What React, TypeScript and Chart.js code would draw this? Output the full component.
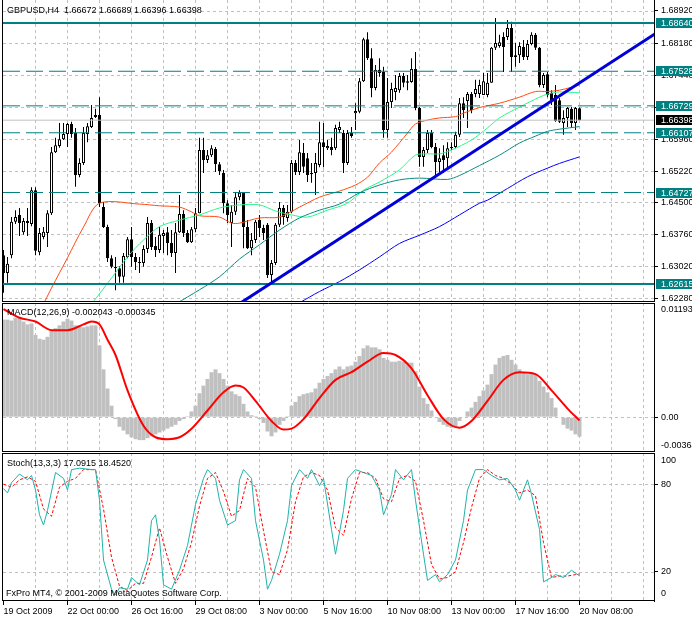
import React, { useEffect, useRef } from 'react';
import { Chart, registerables } from 'chart.js';
Chart.register(...registerables);

const FONT = '9px "Liberation Sans", Arial, sans-serif';

const symbolTitle = 'GBPUSD,H4  1.66672 1.66689 1.66396 1.66398';
const macdTitle = 'MACD(12,26,9) -0.002043 -0.000345';
const stochTitle = 'Stoch(13,3,3) 17.0915 18.4520';
const copyright = 'FxPro MT4, \u00A9 2001-2009 MetaQuotes Software Corp.';

const timeTickBars = [0, 16, 32, 48, 64, 80, 96, 112, 128, 144];
const timeTickLabels = ['19 Oct 2009', '22 Oct 00:00', '26 Oct 16:00', '29 Oct 08:00', '3 Nov 00:00', '5 Nov 16:00', '10 Nov 08:00', '13 Nov 00:00', '17 Nov 16:00', '20 Nov 08:00'];

const opens = [
  1.6328,1.6287,1.6328,1.6405,1.6421,1.6381,1.6402,1.6400,1.6478,1.6335,
  1.6370,1.6379,1.6425,1.6566,1.6580,1.6596,1.6608,1.6631,1.6610,1.6513,
  1.6541,1.6608,1.6624,1.6647,1.6652,1.6439,1.6393,1.6321,1.6301,1.6298,
  1.6278,1.6324,1.6365,1.6324,1.6312,1.6310,1.6342,1.6402,1.6349,1.6340,
  1.6372,1.6381,1.6356,1.6333,1.6381,1.6423,1.6379,1.6358,1.6388,1.6425,
  1.6571,1.6548,1.6559,1.6573,1.6538,1.6518,1.6448,1.6402,1.6428,1.6462,
  1.6472,1.6393,1.6344,1.6363,1.6409,1.6391,1.6398,1.6282,1.6310,1.6398,
  1.6437,1.6414,1.6428,1.6541,1.6520,1.6564,1.6552,1.6518,1.6518,1.6536,
  1.6589,1.6575,1.6578,1.6575,1.6617,1.6610,1.6541,1.6610,1.6656,1.6659,
  1.6730,1.6827,1.6783,1.6714,1.6756,1.6751,1.6617,1.6682,1.6705,1.6709,
  1.6742,1.6726,1.6728,1.6758,1.6668,1.6555,1.6571,1.6610,1.6578,1.6543,
  1.6559,1.6552,1.6575,1.6578,1.6606,1.6679,1.6684,1.6700,1.6700,1.6700,
  1.6698,1.6698,1.6726,1.6807,1.6811,1.6832,1.6832,1.6853,1.6790,1.6790,
  1.6809,1.6786,1.6816,1.6837,1.6807,1.6721,1.6746,1.6703,1.6698,1.6686,
  1.6633,1.6645,1.6666,1.6633,1.66672
];
const highs = [
  1.6340,1.6324,1.6416,1.6432,1.6437,1.6414,1.6437,1.6485,1.6485,1.6391,
  1.6393,1.6432,1.6578,1.6599,1.6633,1.6633,1.6633,1.6636,1.6622,1.6552,
  1.6624,1.6633,1.6675,1.6666,1.6693,1.6451,1.6398,1.6328,1.6324,1.6303,
  1.6333,1.6370,1.6393,1.6333,1.6324,1.6351,1.6416,1.6409,1.6370,1.6393,
  1.6386,1.6393,1.6386,1.6402,1.6467,1.6432,1.6386,1.6393,1.6437,1.6599,
  1.6599,1.6571,1.6582,1.6578,1.6543,1.6525,1.6455,1.6444,1.6472,1.6478,
  1.6474,1.6409,1.6379,1.6409,1.6421,1.6398,1.6402,1.6317,1.6402,1.6451,
  1.6444,1.6444,1.6548,1.6548,1.6594,1.6587,1.6564,1.6541,1.6564,1.6636,
  1.6633,1.6594,1.6599,1.6629,1.6636,1.6617,1.6617,1.6624,1.6679,1.6737,
  1.6830,1.6843,1.6806,1.6767,1.6783,1.6763,1.6737,1.6726,1.6744,1.6749,
  1.6749,1.6744,1.6783,1.6797,1.6670,1.6578,1.6617,1.6617,1.6587,1.6575,
  1.6582,1.6589,1.6589,1.6613,1.6691,1.6693,1.6705,1.6705,1.6733,1.6733,
  1.6749,1.6749,1.6809,1.6876,1.6837,1.6843,1.6871,1.6867,1.6818,1.6820,
  1.6825,1.6825,1.6843,1.6841,1.6809,1.6749,1.6751,1.6709,1.6721,1.6691,
  1.6663,1.6670,1.6670,1.6670,1.66689
];
const lows = [
  1.6241,1.6264,1.6321,1.6400,1.6372,1.6375,1.6372,1.6395,1.6328,1.6328,
  1.6365,1.6347,1.6421,1.6564,1.6576,1.6594,1.6578,1.6599,1.6486,1.6508,
  1.6536,1.6589,1.6622,1.6645,1.6439,1.6391,1.6312,1.6298,1.6247,1.6264,
  1.6264,1.6321,1.6301,1.6294,1.6287,1.6301,1.6333,1.6340,1.6324,1.6333,
  1.6333,1.6328,1.6324,1.6287,1.6379,1.6370,1.6356,1.6356,1.6381,1.6425,
  1.6518,1.6541,1.6555,1.6520,1.6513,1.6425,1.6402,1.6347,1.6421,1.6455,
  1.6344,1.6342,1.6328,1.6356,1.6370,1.6363,1.6275,1.6264,1.6305,1.6393,
  1.6398,1.6405,1.6425,1.6513,1.6513,1.6518,1.6497,1.6495,1.6467,1.6531,
  1.6531,1.6571,1.6559,1.6571,1.6610,1.6518,1.6536,1.6599,1.6617,1.6656,
  1.6728,1.6779,1.6693,1.6709,1.6740,1.6599,1.6599,1.6668,1.6686,1.6703,
  1.6716,1.6709,1.6726,1.6663,1.6532,1.6532,1.6564,1.6575,1.6508,1.6520,
  1.6518,1.6529,1.6571,1.6575,1.6601,1.6645,1.6622,1.6656,1.6693,1.6691,
  1.6698,1.6693,1.6726,1.6802,1.6807,1.6751,1.6825,1.6751,1.6763,1.6772,
  1.6779,1.6779,1.6813,1.6802,1.6716,1.6714,1.6693,1.6675,1.6636,1.6633,
  1.6606,1.6624,1.6622,1.6617,1.66396
];
const closes = [
  1.6287,1.6308,1.6405,1.6416,1.6402,1.6407,1.6407,1.6478,1.6338,1.6379,
  1.6382,1.6425,1.6566,1.6582,1.6596,1.6608,1.6631,1.6608,1.6513,1.6541,
  1.6610,1.6626,1.6645,1.6652,1.6448,1.6393,1.6321,1.6301,1.6298,1.6278,
  1.6326,1.6365,1.6324,1.6312,1.6310,1.6342,1.6402,1.6347,1.6340,1.6375,
  1.6379,1.6356,1.6333,1.6381,1.6423,1.6379,1.6358,1.6388,1.6425,1.6571,
  1.6548,1.6559,1.6575,1.6538,1.6522,1.6448,1.6421,1.6428,1.6462,1.6472,
  1.6393,1.6344,1.6363,1.6405,1.6391,1.6379,1.6282,1.6310,1.6398,1.6437,
  1.6416,1.6428,1.6541,1.6520,1.6566,1.6532,1.6513,1.6515,1.6541,1.6589,
  1.6578,1.6580,1.6571,1.6622,1.6624,1.6541,1.6610,1.6603,1.6661,1.6730,
  1.6827,1.6783,1.6714,1.6756,1.6749,1.6617,1.6682,1.6712,1.6714,1.6742,
  1.6726,1.6730,1.6758,1.6668,1.6555,1.6571,1.6610,1.6578,1.6543,1.6552,
  1.6548,1.6575,1.6578,1.6606,1.6679,1.6663,1.6700,1.6663,1.6712,1.6721,
  1.6730,1.6726,1.6807,1.6818,1.6820,1.6809,1.6853,1.6786,1.6786,1.6811,
  1.6786,1.6816,1.6837,1.6807,1.6721,1.6744,1.6698,1.6686,1.6638,1.6636,
  1.6645,1.6668,1.6633,1.6668,1.66398
];

// moving averages: [bar, price]
const maOrange = [[10,1.6215],[12,1.6252],[16,1.6322],[20,1.6393],[24,1.6448],[34,1.6446],[39,1.6442],[44,1.6439],[47,1.6428],[49,1.6419],[54,1.6416],[57,1.6402],[59,1.6402],[64,1.6414],[69,1.6416],[74,1.6439],[79,1.6462],[84,1.6476],[88,1.6490],[91,1.6508],[94,1.6541],[97,1.6566],[101,1.6610],[103,1.6631],[106,1.6640],[109,1.6645],[113,1.6648],[115,1.6656],[119,1.6669],[124,1.6679],[129,1.6693],[133,1.6706],[136,1.6706],[139,1.6709],[142,1.6716],[144,1.6721]];
const maGreen = [[22,1.6215],[27,1.6275],[31,1.6324],[35,1.6363],[39,1.6394],[44,1.6409],[49,1.6421],[54,1.6437],[59,1.6444],[64,1.6444],[68,1.6430],[72,1.6421],[76,1.6416],[81,1.6432],[86,1.6448],[90,1.6478],[94,1.6497],[99,1.6525],[103,1.6559],[106,1.6562],[109,1.6562],[112,1.6571],[117,1.6594],[121,1.6622],[124,1.6645],[129,1.6670],[134,1.6693],[136,1.6700],[139,1.6705],[144,1.6703]];
const maTeal = [[43,1.6215],[49,1.6248],[54,1.6278],[59,1.6319],[64,1.6352],[69,1.6386],[74,1.6414],[79,1.6432],[84,1.6446],[89,1.6472],[94,1.6490],[99,1.6502],[104,1.6506],[111,1.6503],[114,1.6512],[119,1.6535],[124,1.6559],[129,1.6587],[133,1.6603],[136,1.6614],[139,1.6619],[144,1.6625]];
const maBlue = [[74,1.6218],[79,1.6244],[84,1.6267],[89,1.6294],[94,1.6324],[99,1.6355],[104,1.6374],[109,1.6394],[114,1.6421],[119,1.6448],[121,1.6455],[126,1.6482],[131,1.6509],[136,1.6529],[139,1.6540],[144,1.6555]];
const trendLine = [[58, 1.6210], [165, 1.6852]];

const priceTicks = [1.6892, 1.6818, 1.6744, 1.6670, 1.6596, 1.6522, 1.6450, 1.6376, 1.6302, 1.6228];
const solidLevels = [1.68640, 1.62615];
const dashedLevels = [1.67528, 1.66729, 1.66107, 1.64727];
const bidPrice = 1.66398;

const macdHist = [
  0.0102,0.0102,0.0101,0.0104,0.0104,0.0100,0.0097,0.0098,0.0086,0.0082,
  0.0081,0.0084,0.0090,0.0093,0.0096,0.0100,0.0103,0.0101,0.0096,0.0094,
  0.0094,0.0095,0.0096,0.0096,0.0075,0.0050,0.0030,0.0012,-0.0002,-0.0010,
  -0.0014,-0.0018,-0.0021,-0.0023,-0.0024,-0.0024,-0.0022,-0.0020,-0.0018,-0.0016,
  -0.0014,-0.0012,-0.0010,-0.0008,-0.0004,-0.0002,0.0001,0.0006,0.0012,0.0025,
  0.0033,0.0040,0.0047,0.0050,0.0046,0.0040,0.0033,0.0027,0.0024,0.0022,
  0.0014,0.0006,0.0002,0.0001,-0.0002,-0.0006,-0.0015,-0.0020,-0.0016,-0.0008,
  -0.0004,0.0001,0.0012,0.0016,0.0022,0.0024,0.0025,0.0026,0.0030,0.0036,
  0.0040,0.0043,0.0046,0.0050,0.0053,0.0050,0.0053,0.0054,0.0058,0.0064,
  0.0072,0.0075,0.0073,0.0073,0.0071,0.0062,0.0060,0.0058,0.0058,0.0059,
  0.0058,0.0057,0.0057,0.0048,0.0032,0.0020,0.0014,0.0007,0.0000,-0.0005,
  -0.0008,-0.0010,-0.0011,-0.0010,-0.0004,0.0000,0.0006,0.0010,0.0016,0.0022,
  0.0028,0.0034,0.0045,0.0055,0.0062,0.0064,0.0065,0.0060,0.0055,0.0050,
  0.0047,0.0045,0.0046,0.0045,0.0038,0.0032,0.0026,0.0020,0.0010,0.0000,
  -0.0008,-0.0012,-0.0014,-0.0018,-0.002043
];
const macdSignal = [[0,0.0113],[4,0.0104],[8,0.0100],[12,0.0091],[16,0.0091],[20,0.0097],[22,0.0100],[24,0.0097],[26,0.0081],[28,0.0065],[31,0.0028],[35,-0.0009],[38,-0.0021],[41,-0.0023],[44,-0.0021],[47,-0.0012],[51,0.0007],[55,0.0026],[58,0.0033],[60,0.0031],[63,0.0017],[67,-0.0004],[70,-0.0013],[72,-0.0012],[75,-0.0002],[79,0.0020],[83,0.0039],[87,0.0047],[91,0.0058],[95,0.0067],[98,0.0065],[102,0.0051],[106,0.0023],[110,-0.0002],[114,-0.0011],[117,-0.0004],[121,0.0017],[125,0.0039],[129,0.0047],[133,0.0045],[137,0.0028],[141,0.0009],[144,-0.000345]];
const macdMax = 0.011937;
const macdMin = -0.003641;

const stochMain = [[0,77],[1,74],[2,81],[4,87],[5,85],[6,83],[7,86],[8,76],[9,59],[10,52],[11,62],[13,88],[15,84],[16,76],[17,90],[19,91],[22,90],[23,90],[24,69],[25,28],[27,8],[28,4],[29,9],[31,8],[32,16],[34,11],[36,28],[37,55],[38,59],[39,42],[40,11],[42,8],[44,21],[46,38],[48,66],[50,84],[51,90],[53,84],[54,69],[56,52],[58,55],[59,83],[60,90],[62,84],[63,55],[65,28],[66,8],[67,14],[69,32],[71,55],[72,79],[74,90],[76,84],[77,90],[79,79],[80,84],[82,49],[83,32],[85,62],[86,84],[88,90],[90,88],[92,86],[94,76],[95,59],[97,73],[98,90],[100,83],[102,90],[103,69],[105,32],[106,14],[108,18],[109,13],[111,18],[113,28],[115,55],[116,76],[118,90],[120,90],[122,86],[124,83],[126,84],[128,76],[129,69],[131,83],[132,73],[134,49],[135,13],[137,16],[138,18],[140,16],[142,21],[144,17.09]];
const stochSignal = [[0,80],[2,78],[4,83],[6,85],[8,82],[10,63],[12,58],[14,78],[16,82],[18,84],[20,90],[23,90],[25,63],[27,30],[29,10],[31,7],[33,12],[35,12],[37,30],[39,50],[41,30],[43,12],[45,22],[47,40],[49,65],[51,84],[53,88],[55,75],[57,58],[59,62],[61,84],[63,78],[65,48],[67,20],[69,18],[71,35],[73,68],[75,85],[77,88],[79,86],[81,76],[83,50],[85,45],[87,70],[89,88],[91,88],[93,84],[95,70],[97,68],[99,84],[101,86],[103,82],[105,55],[107,25],[109,15],[111,16],[113,20],[115,40],[117,64],[119,84],[121,90],[123,86],[125,84],[127,80],[129,74],[131,76],[133,72],[135,40],[137,16],[139,17],[141,17],[143,18],[144,18.45]];
const stochLevels = [80, 20];

// ---------- geometry / styling ----------
const X_MIN = -0.125;
const X_MAX = 162.625;
const TEAL = '#008080';
const GRID = '#c0c0c0';

const pts = (arr: number[][]) => arr.map(([x, y]) => ({ x, y }));

function drawGrid(chart: any, yValues: number[]) {
  const { ctx, chartArea: a, scales } = chart;
  ctx.save();
  ctx.beginPath();
  ctx.rect(a.left, a.top, a.right - a.left, a.bottom - a.top);
  ctx.clip();
  ctx.strokeStyle = GRID;
  ctx.lineWidth = 1;
  ctx.setLineDash([3, 3]);
  for (let b = 8; b <= X_MAX; b += 8) {
    const x = Math.floor(scales.x.getPixelForValue(b)) + 0.5;
    ctx.beginPath();
    ctx.moveTo(x, a.top);
    ctx.lineTo(x, a.bottom);
    ctx.stroke();
  }
  for (const v of yValues) {
    const y = Math.round(scales.y.getPixelForValue(v)) + 0.5;
    ctx.beginPath();
    ctx.moveTo(a.left, y);
    ctx.lineTo(a.right, y);
    ctx.stroke();
  }
  ctx.restore();
}

function drawFrame(chart: any, top: boolean) {
  const { ctx, chartArea: a } = chart;
  ctx.save();
  ctx.strokeStyle = '#000';
  ctx.lineWidth = 1;
  ctx.setLineDash([]);
  ctx.beginPath();
  ctx.moveTo(a.left - 0.5, a.top);
  ctx.lineTo(a.left - 0.5, a.bottom);
  ctx.moveTo(a.right + 0.5, a.top);
  ctx.lineTo(a.right + 0.5, a.bottom);
  ctx.moveTo(a.left - 1, a.bottom - 0.5);
  ctx.lineTo(a.right + 1, a.bottom - 0.5);
  if (top) {
    ctx.moveTo(a.left - 1, a.top + 0.5);
    ctx.lineTo(a.right + 1, a.top + 0.5);
  }
  ctx.stroke();
  ctx.restore();
}

function text(ctx: any, s: string, x: number, y: number, color = '#000') {
  ctx.save();
  ctx.font = FONT;
  ctx.fillStyle = color;
  ctx.textBaseline = 'middle';
  ctx.textAlign = 'left';
  ctx.fillText(s, x, y);
  ctx.restore();
}

function fixY(width: number) {
  return (s: any) => {
    s.width = width;
    s.paddingTop = 0;
    s.paddingBottom = 0;
    s.paddingLeft = 0;
    s.paddingRight = 0;
  };
}

const baseOptions = {
  animation: false,
  responsive: false,
  devicePixelRatio: 1,
  events: [],
  plugins: { legend: { display: false }, tooltip: { enabled: false } },
};

function xScaleHidden() {
  return { type: 'linear', min: X_MIN, max: X_MAX, offset: false, display: false };
}

function yAxisBase(min: number, max: number, ticks: number[], fmt: (v: number) => string) {
  return {
    type: 'linear',
    position: 'right',
    min,
    max,
    afterBuildTicks: (s: any) => { s.ticks = ticks.map((v) => ({ value: v })); },
    afterFit: fixY(38),
    ticks: { font: { family: '"Liberation Sans", Arial, sans-serif', size: 9 }, color: '#000', padding: 3, autoSkip: false, callback: (v: number) => fmt(v) },
    grid: { drawOnChartArea: false, drawTicks: true, tickLength: 4, color: '#000' },
    border: { display: true, color: '#000' },
  };
}

function mainConfig(): any {
  const levelSet = (v: number, dash: number[], width: number, color: string) => ({
    type: 'line',
    data: [{ x: X_MIN, y: v }, { x: X_MAX, y: v }],
    borderColor: color,
    borderWidth: width,
    borderDash: dash,
    pointRadius: 0,
    order: 2,
  });
  const ma = (arr: number[][], color: string) => ({
    type: 'line', data: pts(arr), borderColor: color, borderWidth: 1, pointRadius: 0, tension: 0.3, order: 4,
  });
  return {
    type: 'bar',
    data: {
      datasets: [
        {
          type: 'bar',
          data: lows.map((l, i) => ({ x: i, y: [l, highs[i]] })),
          backgroundColor: '#000',
          barThickness: 1,
          grouped: false,
          inflateAmount: 0,
          borderWidth: 0,
          order: 10,
        },
        {
          type: 'bar',
          data: opens.map((o, i) => ({ x: i, y: [o, closes[i]] })),
          backgroundColor: opens.map((o, i) => (closes[i] >= o ? '#ffffff' : '#000000')),
          borderColor: '#000',
          borderWidth: 1,
          borderSkipped: false,
          barThickness: 3,
          grouped: false,
          inflateAmount: 0,
          order: 9,
        },
        ma(maBlue, '#0000ff'),
        ma(maTeal, '#0a8a80'),
        ma(maGreen, '#2cf58c'),
        ma(maOrange, '#ff4a14'),
        levelSet(bidPrice, [], 1, '#c0c0c0'),
        ...dashedLevels.map((v) => levelSet(v, [17, 6], 1, TEAL)),
        ...solidLevels.map((v) => levelSet(v, [], 2, TEAL)),
        { type: 'line', data: pts(trendLine), borderColor: '#0000d8', borderWidth: 3, pointRadius: 0, order: 1 },
      ],
    },
    options: {
      ...baseOptions,
      layout: { padding: { left: 3, top: 0, right: 0, bottom: 0 } },
      scales: {
        x: xScaleHidden(),
        y: yAxisBase(1.62198, 1.69174, priceTicks, (v) => v.toFixed(5)),
      },
    },
    plugins: [{
      id: 'mainPanel',
      beforeDatasetsDraw: (c: any) => drawGrid(c, priceTicks),
      afterDraw: (c: any) => {
        const { ctx, scales } = c;
        drawFrame(c, false);
        text(ctx, symbolTitle, 7, 11);
        const box = (v: number, bg: string) => {
          const y = Math.round(scales.y.getPixelForValue(v));
          ctx.save();
          ctx.fillStyle = bg;
          ctx.fillRect(656, y - 5, 36, 10);
          ctx.restore();
          text(ctx, v.toFixed(5), 661, y + 0.5, '#fff');
        };
        [...solidLevels, ...dashedLevels].forEach((v) => box(v, TEAL));
        box(bidPrice, '#000');
      },
    }],
  };
}

function macdConfig(): any {
  return {
    type: 'bar',
    data: {
      datasets: [
        {
          type: 'line',
          data: pts(macdSignal),
          borderColor: '#ff0000',
          borderWidth: 2,
          pointRadius: 0,
          cubicInterpolationMode: 'monotone',
          order: 1,
        },
        {
          type: 'bar',
          data: macdHist.map((v, i) => ({ x: i, y: v })),
          backgroundColor: '#c0c0c0',
          barThickness: 4,
          grouped: false,
          inflateAmount: 0,
          borderWidth: 0,
          order: 5,
        },
      ],
    },
    options: {
      ...baseOptions,
      layout: { padding: { left: 3, top: 1, right: 0, bottom: 0 } },
      scales: {
        x: xScaleHidden(),
        y: yAxisBase(macdMin, macdMax, [0], () => '0.00'),
      },
    },
    plugins: [{
      id: 'macdPanel',
      beforeDatasetsDraw: (c: any) => drawGrid(c, [0]),
      afterDraw: (c: any) => {
        const { ctx, chartArea: a } = c;
        drawFrame(c, true);
        text(ctx, macdTitle, 7, a.top + 10);
        text(ctx, macdMax.toFixed(6), 661, a.top + 7);
        text(ctx, macdMin.toFixed(6), 661, a.bottom - 6);
      },
    }],
  };
}

function stochConfig(): any {
  return {
    type: 'line',
    data: {
      datasets: [
        { data: pts(stochSignal), borderColor: '#ff0000', borderWidth: 1, borderDash: [3, 2], pointRadius: 0, order: 2 },
        { data: pts(stochMain), borderColor: '#20b2aa', borderWidth: 1, pointRadius: 0, order: 1 },
      ],
    },
    options: {
      ...baseOptions,
      layout: { padding: { left: 3, top: 1, right: 0, bottom: 0 } },
      scales: {
        x: {
          type: 'linear',
          min: X_MIN,
          max: X_MAX,
          offset: false,
          afterBuildTicks: (s: any) => { s.ticks = timeTickBars.map((v) => ({ value: v })); },
          afterFit: (s: any) => { s.height = 17; s.paddingLeft = 0; s.paddingRight = 0; },
          ticks: {
            autoSkip: false, maxRotation: 0, minRotation: 0, align: 'start', padding: 1,
            font: { family: '"Liberation Sans", Arial, sans-serif', size: 9 }, color: '#000',
            callback: (_v: number, i: number) => timeTickLabels[i],
          },
          grid: { drawOnChartArea: false, drawTicks: true, tickLength: 4, color: '#000' },
          border: { display: false },
        },
        y: yAxisBase(-0.1, 101.4, stochLevels, (v) => String(v)),
      },
    },
    plugins: [{
      id: 'stochPanel',
      beforeDatasetsDraw: (c: any) => drawGrid(c, stochLevels),
      afterDraw: (c: any) => {
        const { ctx, chartArea: a } = c;
        drawFrame(c, true);
        text(ctx, stochTitle, 7, a.top + 11);
        text(ctx, '100', 661, a.top + 8);
        text(ctx, '0', 661, a.bottom - 7);
        text(ctx, copyright, 6, a.bottom - 7);
      },
    }],
  };
}

export default function App() {
  const r1 = useRef<HTMLCanvasElement>(null);
  const r2 = useRef<HTMLCanvasElement>(null);
  const r3 = useRef<HTMLCanvasElement>(null);
  useEffect(() => {
    const charts = [
      new Chart(r1.current as HTMLCanvasElement, mainConfig()),
      new Chart(r2.current as HTMLCanvasElement, macdConfig()),
      new Chart(r3.current as HTMLCanvasElement, stochConfig()),
    ];
    return () => charts.forEach((c) => c.destroy());
  }, []);
  return (
    <div style={{ position: 'fixed', left: 0, top: 0, width: 692, height: 618, background: '#fff', overflow: 'hidden' }}>
      <canvas ref={r1} width={692} height={302} style={{ position: 'absolute', left: 0, top: 0, width: 692, height: 302 }} />
      <canvas ref={r2} width={692} height={150} style={{ position: 'absolute', left: 0, top: 302, width: 692, height: 150 }} />
      <canvas ref={r3} width={692} height={166} style={{ position: 'absolute', left: 0, top: 452, width: 692, height: 166 }} />
    </div>
  );
}
